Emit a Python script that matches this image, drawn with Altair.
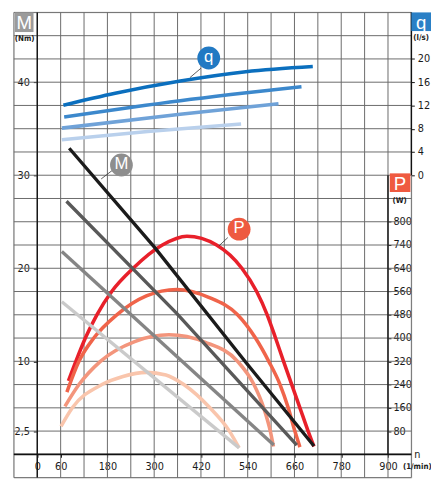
import altair as alt
import pandas as pd

# ---------------- data ----------------
x_ticks = [0, 60, 180, 300, 420, 540, 660, 780, 900]
m_ticks = [2.5, 10, 20, 30, 40]
m_tick_labels = ["2,5", "10", "20", "30", "40"]
q_ticks = [0, 4, 8, 12, 16, 20]
p_ticks = [80, 160, 240, 320, 400, 480, 560, 640, 720, 800]
p_tick_labels = ["80", "160", "240", "320", "400", "480", "560", "640", "740", "800"]
grid_n = list(range(-60, 961, 60))
grid_m = [k * 2.5 for k in range(-1, 20)]

# torque M (Nm) vs speed n (1/min)
m1_n = [82, 300, 535, 710]
m1_v = [32.9, 22.3, 9.9, 0.9]
m2_n = [75, 359, 666]
m2_v = [27.2, 15.1, 1.0]
m3_n = [63, 607]
m3_v = [21.8, 1.0]
m4_n = [63, 518]
m4_v = [16.4, 0.7]

# power P (W)
p1_n = [80, 99, 124, 153, 191, 246, 321, 384, 460, 525, 563, 590, 611, 632, 653, 674, 695, 710]
p1_v = [253, 320, 402, 480, 560, 640, 720, 750, 720, 640, 560, 480, 402, 320, 240, 160, 80, 27]
p2_n = [76, 107, 145, 204, 280, 358, 440, 514, 560, 594, 623, 644, 661, 674]
p2_v = [214, 320, 400, 480, 545, 567, 540, 480, 400, 320, 240, 160, 80, 25]
p3_n = [71, 107, 162, 250, 338, 430, 514, 556, 581, 598, 606]
p3_v = [165, 240, 320, 388, 411, 386, 320, 240, 160, 80, 27]
p4_n = [61, 90, 166, 220, 280, 330, 376, 443, 493, 518]
p4_v = [96, 160, 240, 268, 282, 273, 240, 160, 80, 22]

# flow q (l/s)
q1_n = [67, 200, 367, 535, 707]
q1_v = [12.05, 14.1, 16.2, 17.8, 18.7]
q2_n = [69, 367, 678]
q2_v = [10.0, 12.8, 15.2]
q3_n = [63, 367, 619]
q3_v = [8.1, 10.5, 12.3]
q4_n = [63, 283, 523]
q4_v = [6.1, 7.5, 8.8]

# call-out badges (on the M scale) and their leader lines
callout_text = ["q", "M", "P"]
callout_n = [440, 216, 518]
callout_m = [42.6, 31.1, 24.2]
leader_n1 = [420, 195, 489]
leader_m1 = [41.5, 30.6, 23.3]
leader_n2 = [392, 164, 466]
leader_m2 = [40.5, 29.6, 22.4]

# ---------------- layout / style ----------------
W, H = 405, 474
N_DOM = [-60, 960]
M_DOM = [-2.5, 47.5]
Q_DOM = [1.6 * (M_DOM[0] - 30), 1.6 * (M_DOM[1] - 30)]
P_DOM = [32 * M_DOM[0], 32 * M_DOM[1]]
STEP_X = W * 60 / (N_DOM[1] - N_DOM[0])
STEP_Y = H * 2.5 / (M_DOM[1] - M_DOM[0])
FONT = "Liberation Sans Narrow, DejaVu Sans Condensed, Arial Narrow, sans-serif"
SANS = "Liberation Sans, Arial, sans-serif"

M_COLORS = ["#1b1b1b", "#595959", "#858585", "#cacaca"]
P_COLORS = ["#e8202a", "#f0644a", "#f3957c", "#f9c5ac"]
Q_COLORS = ["#0b6fbe", "#3c88cc", "#6fa2d8", "#b9d0ec"]
BADGE = ["#2179c3", "#8e8e8e", "#ee5a40"]

xs = alt.Scale(domain=N_DOM, nice=False, zero=False)
ms = alt.Scale(domain=M_DOM, nice=False, zero=False)
qs = alt.Scale(domain=Q_DOM, nice=False, zero=False)
ps = alt.Scale(domain=P_DOM, nice=False, zero=False)


def expr_labels(vals, labels):
    e = "datum.label"
    for v, l in zip(vals, labels):
        e = f"datum.value == {v} ? '{l}' : ({e})"
    return e


common_axis = dict(domain=False, grid=False, title=None, tickColor="#111", labelColor="#1a1a1a",
                   labelFont=FONT, labelFontSize=11)
xaxis = alt.Axis(orient="bottom", offset=-STEP_Y, values=x_ticks, tickSize=3, labelPadding=3,
                 labelFlush=False, **common_axis)
maxis = alt.Axis(orient="left", offset=-STEP_X, values=m_ticks, tickSize=4, labelPadding=4,
                 labelExpr=expr_labels(m_ticks, m_tick_labels), labelFlush=False, **common_axis)
paxis = alt.Axis(orient="right", offset=-STEP_X, values=p_ticks, tickSize=3, labelPadding=2,
                 labelExpr=expr_labels(p_ticks, p_tick_labels), labelFlush=False, **common_axis)
qaxis = alt.Axis(orient="right", offset=0.01, values=q_ticks, tickSize=3, labelPadding=3,
                 labelFlush=False, **common_axis)

X = alt.X("n:Q", scale=xs, axis=xaxis)


def long(ns, vs, names):
    rows = []
    for sn, sv, name in zip(ns, vs, names):
        for a, b in zip(sn, sv):
            rows.append({"n": a, "v": b, "s": name})
    return pd.DataFrame(rows)


dfM = long([m1_n, m2_n, m3_n, m4_n], [m1_v, m2_v, m3_v, m4_v], ["M1", "M2", "M3", "M4"])
dfP = long([p1_n, p2_n, p3_n, p4_n], [p1_v, p2_v, p3_v, p4_v], ["P1", "P2", "P3", "P4"])
dfQ = long([q1_n, q2_n, q3_n, q4_n], [q1_v, q2_v, q3_v, q4_v], ["Q1", "Q2", "Q3", "Q4"])

# grid
grid_v = alt.Chart(pd.DataFrame({"n": grid_n})).mark_rule(color="#6a6a6a", strokeWidth=1).encode(x=X)
grid_h = alt.Chart(pd.DataFrame({"m": grid_m})).mark_rule(color="#6a6a6a", strokeWidth=1).encode(
    y=alt.Y("m:Q", scale=ms, axis=None))

# axis lines
axis_n0 = alt.Chart(pd.DataFrame({"n": [0]})).mark_rule(color="#111", strokeWidth=1.4).encode(x=X)
axis_m0 = alt.Chart(pd.DataFrame({"m": [0]})).mark_rule(color="#111", strokeWidth=1.6).encode(
    y=alt.Y("m:Q", scale=ms, axis=None))
axis_right = alt.Chart(pd.DataFrame({"n": [900, 960], "m1": [0, 30], "m2": [30, M_DOM[1]]})).mark_rule(
    color="#111", strokeWidth=1.4).encode(x=X, y=alt.Y("m1:Q", scale=ms, axis=None), y2="m2:Q")

# curves
q_lines = alt.Chart(dfQ).mark_line(strokeWidth=3.6, strokeCap="butt", interpolate="monotone").encode(
    x=X, y=alt.Y("v:Q", scale=qs, axis=qaxis),
    color=alt.Color("s:N", scale=alt.Scale(domain=["Q1", "Q2", "Q3", "Q4"], range=Q_COLORS), legend=None))
p_lines = alt.Chart(dfP).mark_line(strokeWidth=3.6, strokeCap="butt", interpolate="monotone").encode(
    x=X, y=alt.Y("v:Q", scale=ps, axis=paxis),
    color=alt.Color("s:N", scale=alt.Scale(domain=["P1", "P2", "P3", "P4"], range=P_COLORS), legend=None))
m_lines = alt.Chart(dfM).mark_line(strokeWidth=3.4, strokeCap="butt").encode(
    x=X, y=alt.Y("v:Q", scale=ms, axis=maxis),
    color=alt.Color("s:N", scale=alt.Scale(domain=["M1", "M2", "M3", "M4"], range=M_COLORS), legend=None))

# callouts
dfL = pd.DataFrame({"n1": leader_n1, "m1": leader_m1, "n2": leader_n2, "m2": leader_m2})
leaders = alt.Chart(dfL).mark_rule(color="#333", strokeWidth=0.8).encode(
    x=alt.X("n1:Q", scale=xs, axis=xaxis), x2="n2:Q", y=alt.Y("m1:Q", scale=ms, axis=None), y2="m2:Q")
dfC = pd.DataFrame({"n": callout_n, "m": callout_m, "t": callout_text})
badges = alt.Chart(dfC).mark_circle(size=540, opacity=1).encode(
    x=X, y=alt.Y("m:Q", scale=ms, axis=None),
    color=alt.Color("t:N", scale=alt.Scale(domain=callout_text, range=BADGE), legend=None))
badge_txt = alt.Chart(dfC).mark_text(color="white", font=SANS, fontSize=17, baseline="middle",
                                     align="center", dy=-1).encode(
    x=X, y=alt.Y("m:Q", scale=ms, axis=None), text="t:N")

one = pd.DataFrame({"a": [0]})


def title_box(x0, x1, y0, y1, fill, letter, sub, sub_x, sub_y):
    rect = alt.Chart(one).mark_rect(color=fill).encode(
        x=alt.value(x0), x2=alt.value(x1), y=alt.value(y0), y2=alt.value(y1))
    let = alt.Chart(one).mark_text(color="white", font=SANS, fontSize=19, align="center",
                                   baseline="middle", dy=1).encode(
        x=alt.value((x0 + x1) / 2), y=alt.value((y0 + y1) / 2), text=alt.value(letter))
    st = alt.Chart(one).mark_text(color="#1a1a1a", font=FONT, fontSize=8, fontWeight="bold",
                                  align="center", baseline="middle").encode(
        x=alt.value(sub_x), y=alt.value(sub_y), text=alt.value(sub))
    return [rect, let, st]


boxes = []
boxes += title_box(1, 20, 0, 20, "#9b9b9b", "M", "(Nm)", 11, 27)
boxes += title_box(405, 425, 0, 19, "#2a80c6", "q", "(l/s)", 415, 26)
boxes += title_box(383, 404, 164, 183, "#ef5a40", "P", "(W)", 393, 192)
n_txt = alt.Chart(one).mark_text(color="#1a1a1a", font=FONT, fontSize=11, align="center",
                                 baseline="middle").encode(x=alt.value(411), y=alt.value(451),
                                                           text=alt.value("n"))
unit_txt = alt.Chart(one).mark_text(color="#1a1a1a", font=FONT, fontSize=8, fontWeight="bold",
                                    align="center", baseline="middle").encode(
    x=alt.value(411), y=alt.value(463), text=alt.value("(1/min)"))

chart = alt.layer(
    grid_v, grid_h, axis_n0, axis_m0, axis_right,
    q_lines, p_lines, m_lines,
    leaders, badges, badge_txt,
    *boxes, n_txt, unit_txt,
).resolve_scale(y="independent", color="independent").properties(
    width=W, height=H,
    autosize=alt.AutoSizeParams(type="none"),
    padding={"left": 6, "top": 0, "right": 20, "bottom": 1},
).configure_view(stroke=None).configure(background="white")

chart.save("out.html", embed_options={"renderer": "svg", "actions": False})
